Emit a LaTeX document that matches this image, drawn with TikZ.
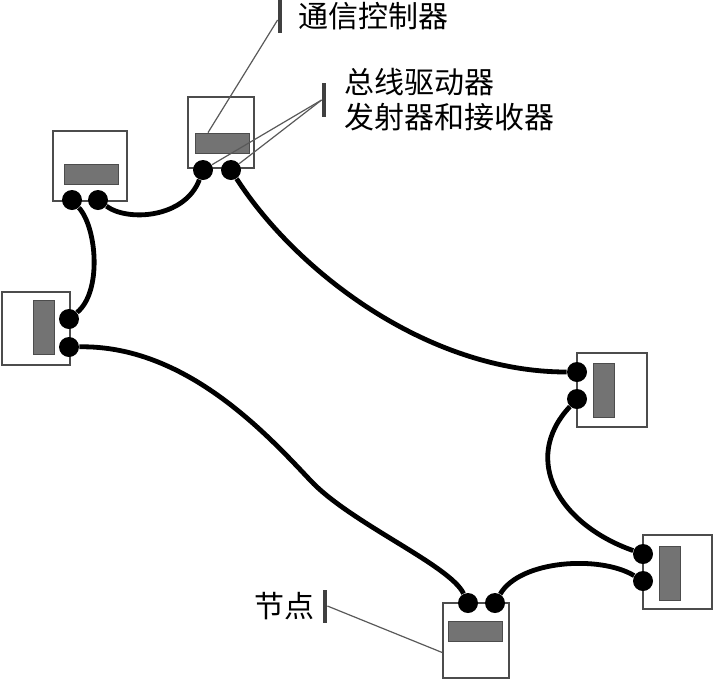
\documentclass[tikz,border=0pt]{standalone}
\usepackage{fontspec}
\newfontfamily\cjk{Noto Sans CJK SC}
\usetikzlibrary{positioning}

\begin{document}
\begin{tikzpicture}[x=0.5pt, y=-0.5pt,
  every node/.style={inner sep=0pt},
  unit/.style={draw=black!70, line width=0.8pt, fill=white},
  chip/.style={draw=black!70, line width=0.4pt, fill=black!55},
  hchip/.style={chip, minimum width=27pt, minimum height=10pt},
  vchip/.style={chip, minimum width=10.5pt, minimum height=27pt},
  port/.style={circle, fill=black, minimum size=10pt},
  cable/.style={line width=2.4pt},
  tag/.style={fill=black!75, minimum width=2pt, minimum height=16.5pt},
  lead/.style={draw=black!65, line width=0.6pt},
  txt/.style={font=\cjk\fontsize{15}{17.5}\selectfont, inner sep=1pt}]
  \useasboundingbox (0,0) rectangle (713,681);

  % units
  \node[unit, minimum width=37pt, minimum height=35pt] (tl) at (90,166) {};
  \node[unit, minimum width=33pt, minimum height=35.5pt] (tc) at (221,132.5) {};
  \node[unit, minimum width=34pt, minimum height=36.5pt] (lf) at (36,328.5) {};
  \node[unit, minimum width=35pt, minimum height=37pt] (rt) at (612,390) {};
  \node[unit, minimum width=34.5pt, minimum height=37pt] (br) at (677.5,572) {};
  \node[unit, minimum width=33pt, minimum height=37.5pt] (bt) at (476,640.5) {};

  \node[hchip] (tlchip) at (91,174) {};
  \node[hchip] (tcchip) at (222,143) {};
  \node[vchip] (lfchip) at (43.5,327.5) {};
  \node[vchip] (rtchip) at (604,390.5) {};
  \node[vchip] (brchip) at (669.5,573.5) {};
  \node[hchip] (btchip) at (475.5,631) {};

  % ports
  \node[port] (tl1) at (72,200) {};
  \node[port] (tl2) at (98,200) {};
  \node[port] (tc1) at (203,170) {};
  \node[port] (tc2) at (231,170) {};
  \node[port] (lf1) at (69,319) {};
  \node[port] (lf2) at (69,347) {};
  \node[port] (rt1) at (577,372) {};
  \node[port] (rt2) at (577,399) {};
  \node[port] (br1) at (643,554) {};
  \node[port] (br2) at (643,581) {};
  \node[port] (bt1) at (468,603) {};
  \node[port] (bt2) at (495,603) {};

  % bus
  \coordinate (bend) at (310,480);
  \draw[cable] (tl2) .. controls +(30,22) and +(-18,48) .. (tc1);
  \draw[cable] (tl1) .. controls +(25,28) and +(33,-27) .. (lf1);
  \draw[cable] (lf2) .. controls +(115,-2) and +(-45,-48) .. (bend)
                     .. controls +(40,43) and +(-18,-38) .. (bt1);
  \draw[cable] (tc2) .. controls +(65,101) and +(-150,0) .. (rt1);
  \draw[cable] (rt2) .. controls +(-57,61) and +(-83,-29) .. (br1);
  \draw[cable] (bt2) .. controls +(25,-43) and +(-43,-26) .. (br2);

  % labels
  \node[tag] (tag1) at (280,16) {};
  \node[tag, minimum height=17pt] (tag2) at (324,100) {};
  \node[tag] (tag3) at (325,606) {};
  \node[txt, right=7pt of tag1] (ctrl) {通信控制器};
  \node[txt, right=8pt of tag2, align=left] (drv) {总线驱动器\\发射器和接收器};
  \node[txt, left=3pt of tag3] (nd) {节点};

  \draw[lead] ([yshift=-2pt]tag1.west) -- ([xshift=-7pt]tcchip.north);
  \draw[lead] (tag2.west) -- (tc1);
  \draw[lead] (tag2.west) -- (tc2);
  \draw[lead] (tag3.east) -- ([yshift=-6pt]bt.west);
\end{tikzpicture}
\end{document}
